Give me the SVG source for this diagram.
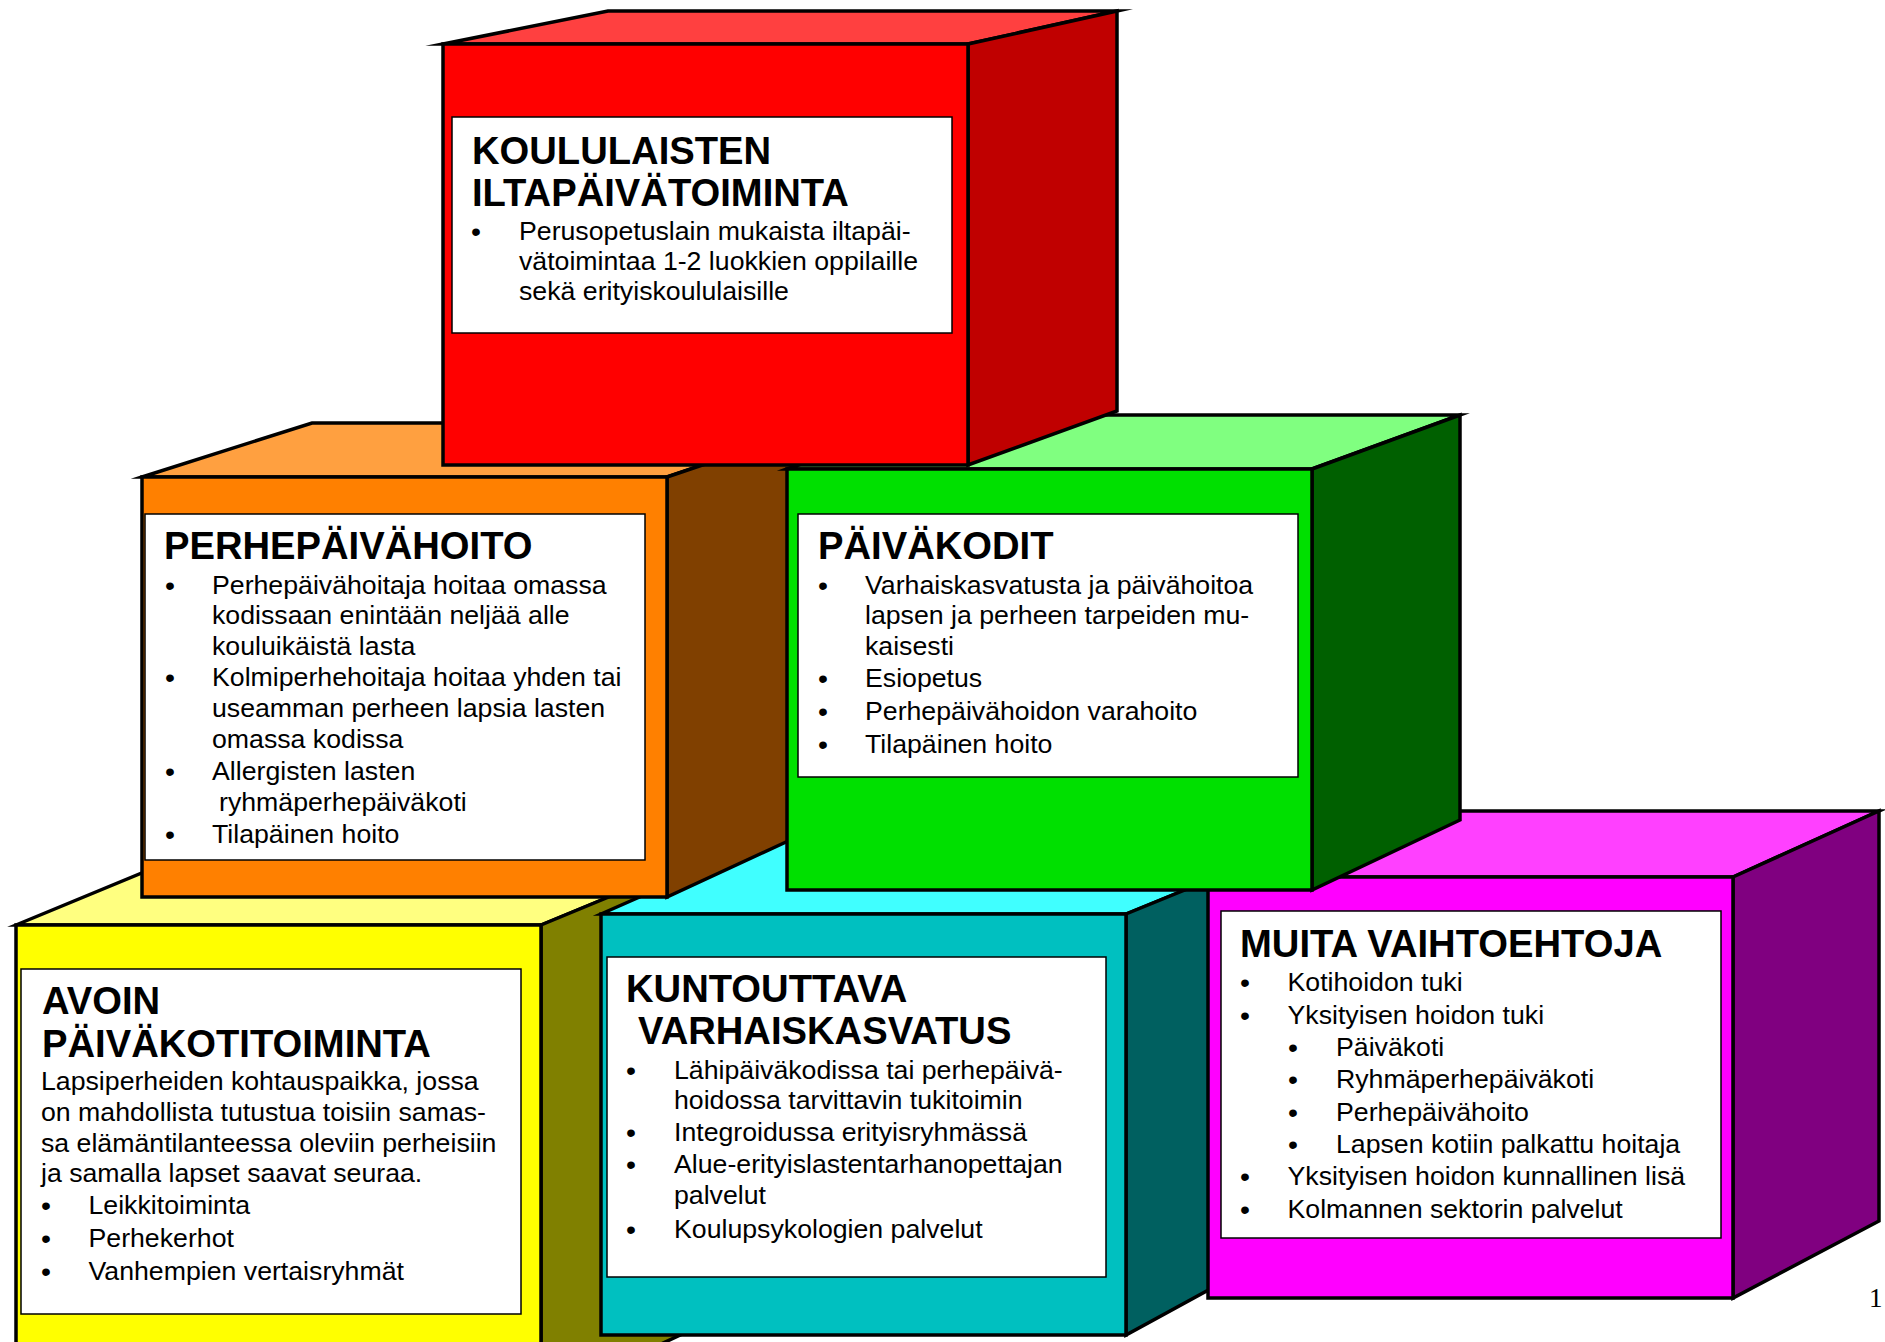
<svg xmlns="http://www.w3.org/2000/svg" width="1885" height="1342" viewBox="0 0 1885 1342">
<style>
.e{stroke:#000;stroke-width:3.5;stroke-linejoin:miter;stroke-miterlimit:12}
.w{fill:#fff;stroke:#000;stroke-width:1.5}
.t{font-family:"Liberation Sans",Arial,sans-serif;font-size:38.2px;font-weight:bold;fill:#000}
.b{font-family:"Liberation Sans",Arial,sans-serif;font-size:26.7px;fill:#000}
.d{font-size:28.5px}
.n{font-family:"Liberation Serif","Times New Roman",serif;font-size:27px;fill:#000}
</style>
<rect x="0" y="0" width="1885" height="1342" fill="#fff"/>

<g id="avoin-paivakotitoiminta">
<polygon class="e" fill="#FFFF80" points="16,925 166,863 691,863 541,925"/>
<polygon class="e" fill="#808000" points="541,925 691,863 691,1330 541,1400"/>
<rect class="e" fill="#FFFF00" x="16" y="925" width="525" height="475"/>
<rect class="w" x="21" y="969" width="500" height="345"/>
<text class="t" x="42" y="1014">AVOIN<tspan x="42" dy="42.5">PÄIVÄKOTITOIMINTA</tspan></text>
<text class="b" x="41" y="1090">Lapsiperheiden kohtauspaikka, jossa</text>
<text class="b" x="41" y="1121">on mahdollista tutustua toisiin samas-</text>
<text class="b" x="41" y="1152">sa elämäntilanteessa oleviin perheisiin</text>
<text class="b" x="41" y="1182">ja samalla lapset saavat seuraa.</text>
<text class="b" y="1214"><tspan class="d" x="41" dy="1">•</tspan><tspan x="88.5" dy="-1">Leikkitoiminta</tspan></text>
<text class="b" y="1247"><tspan class="d" x="41" dy="1">•</tspan><tspan x="88.5" dy="-1">Perhekerhot</tspan></text>
<text class="b" y="1280"><tspan class="d" x="41" dy="1">•</tspan><tspan x="88.5" dy="-1">Vanhempien vertaisryhmät</tspan></text>
</g>

<g id="kuntouttava-varhaiskasvatus">
<polygon class="e" fill="#40FFFF" points="601,914 780,835 1300,843 1126,914"/>
<polygon class="e" fill="#006060" points="1126,914 1300,843 1300,1240 1126,1335"/>
<rect class="e" fill="#00C0C0" x="601" y="914" width="525" height="421"/>
<rect class="w" x="607" y="957" width="499" height="320"/>
<text class="t" x="626" y="1002">KUNTOUTTAVA<tspan x="638" dy="42">VARHAISKASVATUS</tspan></text>
<text class="b" y="1079"><tspan class="d" x="626" dy="1">•</tspan><tspan x="674" dy="-1">Lähipäiväkodissa tai perhepäivä-</tspan></text>
<text class="b" x="674" y="1109">hoidossa tarvittavin tukitoimin</text>
<text class="b" y="1141"><tspan class="d" x="626" dy="1">•</tspan><tspan x="674" dy="-1">Integroidussa erityisryhmässä</tspan></text>
<text class="b" y="1173"><tspan class="d" x="626" dy="1">•</tspan><tspan x="674" dy="-1">Alue-erityislastentarhanopettajan</tspan></text>
<text class="b" x="674" y="1204">palvelut</text>
<text class="b" y="1238"><tspan class="d" x="626" dy="1">•</tspan><tspan x="674" dy="-1">Koulupsykologien palvelut</tspan></text>
</g>

<g id="muita-vaihtoehtoja">
<polygon class="e" fill="#FF40FF" points="1208,877 1360,811 1879,811 1733,877"/>
<polygon class="e" fill="#800080" points="1733,877 1879,811 1879,1221 1733,1298"/>
<rect class="e" fill="#FF00FF" x="1208" y="877" width="525" height="421"/>
<rect class="w" x="1221" y="911" width="500" height="327"/>
<text class="t" x="1240" y="956.5">MUITA VAIHTOEHTOJA</text>
<text class="b" y="991"><tspan class="d" x="1240" dy="1">•</tspan><tspan x="1287.5" dy="-1">Kotihoidon tuki</tspan></text>
<text class="b" y="1024"><tspan class="d" x="1240" dy="1">•</tspan><tspan x="1287.5" dy="-1">Yksityisen hoidon tuki</tspan></text>
<text class="b" y="1056"><tspan class="d" x="1288" dy="1">•</tspan><tspan x="1336" dy="-1">Päiväkoti</tspan></text>
<text class="b" y="1088"><tspan class="d" x="1288" dy="1">•</tspan><tspan x="1336" dy="-1">Ryhmäperhepäiväkoti</tspan></text>
<text class="b" y="1120.5"><tspan class="d" x="1288" dy="1">•</tspan><tspan x="1336" dy="-1">Perhepäivähoito</tspan></text>
<text class="b" y="1152.5"><tspan class="d" x="1288" dy="1">•</tspan><tspan x="1336" dy="-1">Lapsen kotiin palkattu hoitaja</tspan></text>
<text class="b" y="1185"><tspan class="d" x="1240" dy="1">•</tspan><tspan x="1287.5" dy="-1">Yksityisen hoidon kunnallinen lisä</tspan></text>
<text class="b" y="1218"><tspan class="d" x="1240" dy="1">•</tspan><tspan x="1287.5" dy="-1">Kolmannen sektorin palvelut</tspan></text>
</g>

<g id="perhepaivahoito">
<polygon class="e" fill="#FFA040" points="142,477 312,423 827,423 667,477"/>
<polygon class="e" fill="#804000" points="667,477 827,423 827,823 667,897"/>
<rect class="e" fill="#FF8000" x="142" y="477" width="525" height="420"/>
<rect class="w" x="145" y="514" width="500" height="346"/>
<text class="t" x="164" y="559">PERHEPÄIVÄHOITO</text>
<text class="b" y="594"><tspan class="d" x="165" dy="1">•</tspan><tspan x="212" dy="-1">Perhepäivähoitaja hoitaa omassa</tspan></text>
<text class="b" x="212" y="624">kodissaan enintään neljää alle</text>
<text class="b" x="212" y="655">kouluikäistä lasta</text>
<text class="b" y="686"><tspan class="d" x="165" dy="1">•</tspan><tspan x="212" dy="-1">Kolmiperhehoitaja hoitaa yhden tai</tspan></text>
<text class="b" x="212" y="717">useamman perheen lapsia lasten</text>
<text class="b" x="212" y="748">omassa kodissa</text>
<text class="b" y="780"><tspan class="d" x="165" dy="1">•</tspan><tspan x="212" dy="-1">Allergisten lasten</tspan></text>
<text class="b" x="219" y="811">ryhmäperhepäiväkoti</text>
<text class="b" y="843"><tspan class="d" x="165" dy="1">•</tspan><tspan x="212" dy="-1">Tilapäinen hoito</tspan></text>
</g>

<g id="paivakodit">
<polygon class="e" fill="#80FF80" points="787,469 940,415 1460,415 1312,469"/>
<polygon class="e" fill="#006000" points="1312,469 1460,415 1460,820 1312,890"/>
<rect class="e" fill="#00E000" x="787" y="469" width="525" height="421"/>
<rect class="w" x="798" y="514" width="500" height="263"/>
<text class="t" x="818" y="559">PÄIVÄKODIT</text>
<text class="b" y="594"><tspan class="d" x="818" dy="1">•</tspan><tspan x="865" dy="-1">Varhaiskasvatusta ja päivähoitoa</tspan></text>
<text class="b" x="865" y="624">lapsen ja perheen tarpeiden mu-</text>
<text class="b" x="865" y="655">kaisesti</text>
<text class="b" y="687"><tspan class="d" x="818" dy="1">•</tspan><tspan x="865" dy="-1">Esiopetus</tspan></text>
<text class="b" y="720"><tspan class="d" x="818" dy="1">•</tspan><tspan x="865" dy="-1">Perhepäivähoidon varahoito</tspan></text>
<text class="b" y="753"><tspan class="d" x="818" dy="1">•</tspan><tspan x="865" dy="-1">Tilapäinen hoito</tspan></text>
</g>

<g id="koululaisten-iltapaivatoiminta">
<polygon class="e" fill="#FF4040" points="443,44 608,11 1117,11 968,44"/>
<polygon class="e" fill="#C00000" points="968,44 1117,11 1117,411 968,465"/>
<rect class="e" fill="#FF0000" x="443" y="44" width="525" height="421"/>
<rect class="w" x="452" y="117" width="500" height="216"/>
<text class="t" x="472" y="163.5">KOULULAISTEN<tspan x="472" dy="42">ILTAPÄIVÄTOIMINTA</tspan></text>
<text class="b" y="240"><tspan class="d" x="471" dy="1">•</tspan><tspan x="519" dy="-1">Perusopetuslain mukaista iltapäi-</tspan></text>
<text class="b" x="519" y="270">vätoimintaa 1-2 luokkien oppilaille</text>
<text class="b" x="519" y="300">sekä erityiskoululaisille</text>
</g>

<g id="connectors"></g>

<text class="n" x="1869" y="1307">1</text>
</svg>
